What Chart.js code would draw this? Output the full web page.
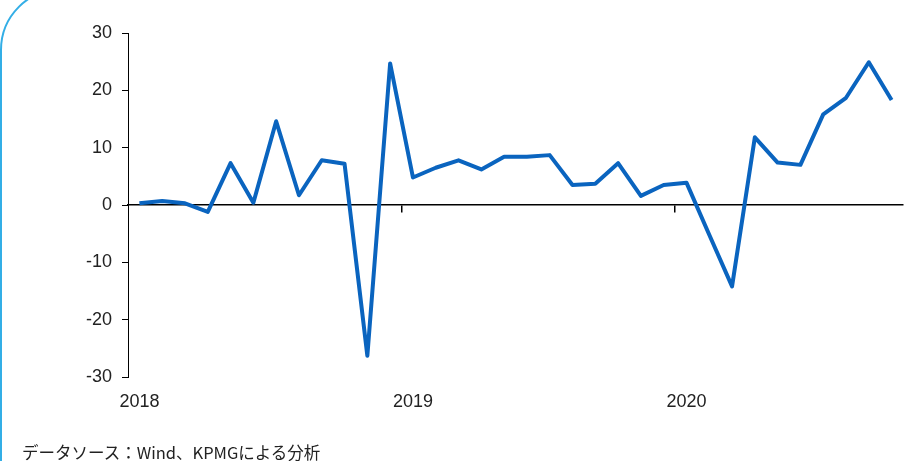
<!DOCTYPE html>
<html>
<head>
<meta charset="utf-8">
<script src="https://cdn.jsdelivr.net/npm/chart.js@4"></script>
<style>
  body { margin: 0; background: #fff; width: 918px; height: 461px; overflow: hidden; position: relative; }
  #frame { position: absolute; left: 0; top: -12px; width: 1000px; height: 600px; box-sizing: border-box;
           border: 2px solid #33aee6; border-radius: 62px; }
  #chart { position: absolute; left: 0; top: 0; }
  #source { position: absolute; left: 22px; top: 443px; font: 16.5px "Noto Sans CJK JP", sans-serif; line-height: 18px; color: #222; }
</style>
</head>
<body>
<div id="frame"></div>
<canvas id="chart" width="918" height="461"></canvas>
<div id="source">データソース：Wind、KPMGによる分析</div>
<script>
// 月次データ 2018/01 - 2020/10
const months = [
  "2018/01","2018/02","2018/03","2018/04","2018/05","2018/06","2018/07","2018/08","2018/09","2018/10","2018/11","2018/12",
  "2019/01","2019/02","2019/03","2019/04","2019/05","2019/06","2019/07","2019/08","2019/09","2019/10","2019/11","2019/12",
  "2020/01","2020/02","2020/03","2020/04","2020/05","2020/06","2020/07","2020/08","2020/09","2020/10"
];
const values = [
  0.3, 0.7, 0.3, -1.2, 7.3, 0.4, 14.6, 1.7, 7.8, 7.2, -26.3, 24.7,
  4.8, 6.5, 7.8, 6.2, 8.4, 8.4, 8.7, 3.5, 3.7, 7.3, 1.6, 3.5,
  3.9, -5.2, -14.2, 11.8, 7.4, 7.0, 15.8, 18.7, 24.9, 18.3
];
const yTicks = [-30, -20, -10, 0, 10, 20, 30];

const textColor = "#222";
const tickFont = { family: "'Liberation Sans', Arial, sans-serif", size: 18 };

new Chart(document.getElementById("chart").getContext("2d"), {
  type: "line",
  data: {
    labels: months,
    datasets: [{
      data: values,
      borderColor: "#0a64bf",
      borderWidth: 4,
      pointRadius: 0,
      tension: 0,
      borderJoinStyle: "round",
      xAxisID: "x",
      yAxisID: "y"
    }]
  },
  options: {
    responsive: false,
    animation: false,
    layout: { padding: { top: 33, right: 15, bottom: 0, left: 0 } },
    plugins: { legend: { display: false }, tooltip: { enabled: false } },
    scales: {
      x: {
        type: "category",
        position: "bottom",
        offset: true,
        grid: { display: false },
        border: { display: false },
        ticks: {
          autoSkip: false,
          maxRotation: 0,
          padding: 6,
          color: textColor,
          font: tickFont,
          callback: function (v, i) {
            const m = months[i];
            return m.endsWith("/01") ? m.slice(0, 4) : "";
          }
        },
        afterFit: function (s) { s.height = 84; }
      },
      x0: {
        type: "category",
        position: { y: 0 },
        offset: true,
        grid: {
          offset: true,
          drawOnChartArea: false,
          drawTicks: true,
          tickLength: 7,
          lineWidth: 1.5,
          color: function (ctx) {
            return (ctx.index > 0 && ctx.index % 12 === 0) ? "#000" : "rgba(0,0,0,0)";
          }
        },
        border: { display: true, color: "#000", width: 1.5 },
        ticks: { display: false, autoSkip: false }
      },
      y: {
        min: -30,
        max: 30,
        afterBuildTicks: function (s) { s.ticks = yTicks.map(v => ({ value: v })); },
        grid: { drawOnChartArea: false, drawTicks: true, tickLength: 6, color: "#000" },
        border: { display: true, color: "#000", width: 1 },
        ticks: { padding: 10, color: textColor, font: tickFont },
        afterFit: function (s) { s.width = 128; }
      }
    }
  }
});
</script>
</body>
</html>
